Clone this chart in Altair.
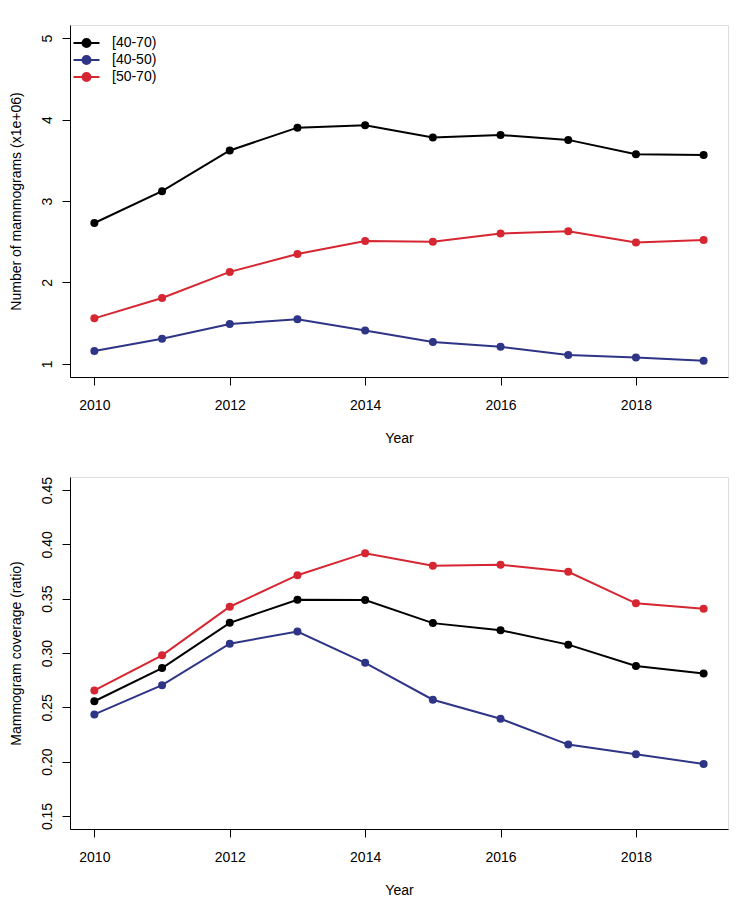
import altair as alt
import pandas as pd

years = [2010, 2011, 2012, 2013, 2014, 2015, 2016, 2017, 2018, 2019]
groups = ["[40-70)", "[40-50)", "[50-70)"]
colors = ["#000000", "#2E3486", "#D62631"]

# Number of mammograms (x1e+06)
count_40_70 = [2.73, 3.12, 3.62, 3.90, 3.93, 3.78, 3.81, 3.75, 3.575, 3.565]
count_40_50 = [1.16, 1.31, 1.49, 1.55, 1.41, 1.27, 1.21, 1.11, 1.08, 1.04]
count_50_70 = [1.56, 1.81, 2.13, 2.35, 2.51, 2.50, 2.60, 2.63, 2.49, 2.52]

# Mammogram coverage (ratio)
cov_40_70 = [0.2556, 0.2861, 0.3278, 0.3490, 0.3488, 0.3275, 0.3210, 0.3077, 0.2880, 0.2812]
cov_40_50 = [0.2435, 0.2704, 0.3086, 0.3197, 0.2910, 0.2570, 0.2395, 0.2157, 0.2068, 0.1979]
cov_50_70 = [0.2655, 0.2979, 0.3426, 0.3716, 0.3919, 0.3803, 0.3812, 0.3747, 0.3457, 0.3407]

x_ticks = [2010, 2012, 2014, 2016, 2018]
y1_ticks = [1, 2, 3, 4, 5]
y2_ticks = [0.15, 0.20, 0.25, 0.30, 0.35, 0.40, 0.45]


def long(series):
    rows = []
    for g, vals in zip(groups, series):
        for y, v in zip(years, vals):
            rows.append({"Year": y, "Group": g, "Value": v})
    return pd.DataFrame(rows)


df1 = long([count_40_70, count_40_50, count_50_70])
df2 = long([cov_40_70, cov_40_50, cov_50_70])

FONT = "Liberation Sans"
SYMBOL = "M-2,0H2M-0.62,0A0.62,0.62,0,1,1,0.62,0A0.62,0.62,0,1,1,-0.62,0Z"


def panel(df, ytitle, ydomain, yticks, yfmt):
    x = alt.X(
        "Year:Q",
        scale=alt.Scale(domain=[2009.64, 2019.36], nice=False, zero=False),
        axis=alt.Axis(
            values=x_ticks, format="d", title="Year", grid=False,
            tickSize=8, labelPadding=13, labelFontSize=14, labelFont=FONT,
            labelColor="#000", tickColor="#000", domainColor="#000",
            titleFont=FONT, titleFontSize=14, titleFontWeight="normal",
            titleColor="#000", titleBaseline="alphabetic", titleY=65,
            labelFlush=False,
        ),
    )
    y = alt.Y(
        "Value:Q",
        scale=alt.Scale(domain=ydomain, nice=False, zero=False),
        axis=alt.Axis(
            values=yticks, format=yfmt, title=ytitle, grid=False,
            tickSize=8, labelPadding=11, labelFontSize=14, labelFont=FONT,
            labelAngle=270, labelAlign="center", labelBaseline="alphabetic",
            labelColor="#000", tickColor="#000", domainColor="#000",
            titleFont=FONT, titleFontSize=14, titleFontWeight="normal",
            titleColor="#000", titleAngle=270, titleBaseline="alphabetic",
            titleX=-50, labelFlush=False,
        ),
    )
    color = alt.Color(
        "Group:N",
        scale=alt.Scale(domain=groups, range=colors),
        legend=alt.Legend(
            title=None, orient="none", legendX=9, legendY=10.5,
            symbolType=SYMBOL, symbolSize=169, symbolStrokeWidth=2,
            labelFont=FONT, labelFontSize=14, labelColor="#000",
            labelOffset=18, rowPadding=0, padding=0,
        ),
    )
    line = alt.Chart(df).mark_line(strokeWidth=2).encode(x=x, y=y, color=color)
    pts = alt.Chart(df).mark_point(filled=True, size=64, opacity=1).encode(
        x=x, y=y, color=color
    )
    return alt.layer(line, pts).properties(width=658, height=352)


top = panel(df1, "Number of mammograms (x1e+06)", [0.84, 5.16], y1_ticks, "d")
bottom = panel(df2, "Mammogram coverage (ratio)", [0.138, 0.462], y2_ticks, ".2f")

chart = (
    alt.vconcat(top, bottom, spacing=29)
    .resolve_scale(y="independent")
    .properties(padding={"top": 16, "left": 0, "right": 5, "bottom": 5})
    .configure_view(stroke="#555555", strokeWidth=1)
    .configure(font=FONT)
)

chart.save("out.html", embed_options={"renderer": "svg", "actions": False})
